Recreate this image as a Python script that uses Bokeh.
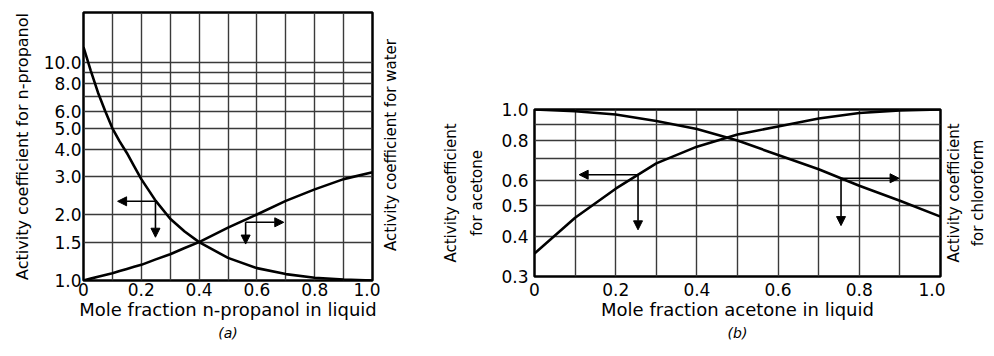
import math
from bokeh.plotting import figure
from bokeh.models import (Range1d, FixedTicker, CustomJSTickFormatter, Arrow, NormalHead,
                          LinearAxis, Title)
from bokeh.layouts import row
from bokeh.embed import file_html
from bokeh.resources import INLINE

# ---------------- data: panel (a) n-propanol / water ----------------
xa = [0.0, 0.025, 0.05, 0.075, 0.1, 0.125, 0.15, 0.175, 0.2, 0.25, 0.3, 0.35, 0.4,
      0.5, 0.6, 0.7, 0.8, 0.9, 1.0]
gamma_propanol = [11.8, 9.2, 7.3, 6.0, 5.0, 4.35, 3.85, 3.35, 2.92, 2.32, 1.92, 1.68, 1.50,
                  1.27, 1.14, 1.07, 1.03, 1.01, 1.0]
gamma_water = [1.0, 1.02, 1.04, 1.06, 1.08, 1.105, 1.13, 1.155, 1.18, 1.25, 1.32, 1.41, 1.50,
               1.75, 2.01, 2.32, 2.62, 2.92, 3.14]
ya_ticks = [1.0, 1.5, 2.0, 3.0, 4.0, 5.0, 6.0, 8.0, 10.0]
ya_grid = [1.0, 1.5, 2.0, 3.0, 4.0, 5.0, 6.0, 7.0, 8.0, 9.0, 10.0]
# arrows (x_start, y_start, x_end, y_end)
arrows_a = [(0.249, 2.31, 0.118, 2.31), (0.249, 2.31, 0.249, 1.58),
            (0.561, 1.85, 0.693, 1.85), (0.561, 1.85, 0.561, 1.47)]

# ---------------- data: panel (b) acetone / chloroform ----------------
xb = [0.0, 0.1, 0.2, 0.3, 0.4, 0.5, 0.6, 0.7, 0.8, 0.9, 1.0]
gamma_acetone = [0.354, 0.458, 0.565, 0.678, 0.765, 0.835, 0.885, 0.937, 0.975, 0.994, 1.0]
gamma_chloroform = [1.0, 0.988, 0.965, 0.921, 0.869, 0.80, 0.72, 0.65, 0.577, 0.518, 0.462]
yb_ticks = [0.3, 0.4, 0.5, 0.6, 0.8, 1.0]
yb_grid = [0.3, 0.4, 0.5, 0.6, 0.7, 0.8, 0.9, 1.0]
arrows_b = [(0.255, 0.625, 0.11, 0.625), (0.255, 0.625, 0.255, 0.42),
            (0.755, 0.609, 0.898, 0.609), (0.755, 0.609, 0.755, 0.433)]

x_ticks = [0.0, 0.2, 0.4, 0.6, 0.8, 1.0]
x_grid = [round(0.1 * i, 1) for i in range(11)]

FONT = "DejaVu Sans"
H = 340


def style(p, yt, yg, xstand, ystand):
    p.frame_align = False
    p.outline_line_color = "black"
    p.outline_line_width = 2.5
    p.background_fill_color = "white"
    p.border_fill_color = "white"
    for ax in p.axis:
        ax.axis_line_color = None
        ax.major_tick_line_color = None
        ax.minor_tick_line_color = None
        ax.major_tick_out = 0
        ax.major_tick_in = 0
        ax.major_label_text_font = FONT
        ax.major_label_text_font_size = "17px"
        ax.major_label_text_color = "black"
        ax.axis_label_text_font = FONT
        ax.axis_label_text_font_style = "normal"
        ax.axis_label_text_color = "black"
    p.xaxis.ticker = FixedTicker(ticks=x_ticks)
    p.xaxis.formatter = CustomJSTickFormatter(code="return tick == 0 ? '0' : tick.toFixed(1);")
    p.xaxis.major_label_standoff = xstand
    p.yaxis.ticker = FixedTicker(ticks=yt)
    p.yaxis.formatter = CustomJSTickFormatter(code="return tick.toFixed(1);")
    p.yaxis.major_label_standoff = ystand
    p.xgrid.ticker = FixedTicker(ticks=x_grid)
    p.ygrid.ticker = FixedTicker(ticks=yg)
    p.grid.grid_line_color = "#3a3a3a"
    p.grid.grid_line_width = 1.4


def bare_axis(ax, text, size, standoff):
    ax.ticker = FixedTicker(ticks=[])
    ax.axis_label = text
    ax.axis_line_color = None
    ax.major_tick_line_color = None
    ax.minor_tick_line_color = None
    ax.major_tick_out = 0
    ax.major_tick_in = 0
    ax.minor_tick_out = 0
    ax.minor_tick_in = 0
    ax.major_label_standoff = 0
    ax.axis_label_standoff = standoff
    ax.axis_label_text_font = FONT
    ax.axis_label_text_font_size = size
    ax.axis_label_text_font_style = "normal"
    ax.axis_label_text_color = "black"


def label_strip(width, top, bottom, labels):
    """Narrow figure whose left axis label(s) carry a rotated side caption.
    labels: list of (text, size, standoff), innermost first."""
    s = figure(width=width, height=H, x_range=Range1d(0, 1), y_range=Range1d(0, 1),
               output_backend="svg", toolbar_location=None, x_axis_location=None,
               min_border_left=width - 1, min_border_right=0,
               min_border_top=top, min_border_bottom=H - bottom)
    s.frame_align = False
    s.outline_line_color = None
    s.grid.visible = False
    s.background_fill_color = "white"
    s.border_fill_color = "white"
    text, size, standoff = labels[0]
    bare_axis(s.yaxis[0], text, size, standoff)
    for text, size, standoff in labels[1:]:
        ax = LinearAxis()
        bare_axis(ax, text, size, standoff)
        s.add_layout(ax, "left")
    return s


def add_arrows(p, arrows):
    for (x0, y0, x1, y1) in arrows:
        p.add_layout(Arrow(end=NormalHead(size=9, fill_color="black", line_color="black", line_width=1),
                           x_start=x0, y_start=y0, x_end=x1, y_end=y1,
                           line_color="black", line_width=1.6))


def panel_title(p, text):
    p.add_layout(Title(text=text, align="center", text_font=FONT, text_font_size="14px",
                       text_font_style="italic", text_color="black", standoff=0), "below")


# ---------------- panel (a) ----------------
WA = 380
A_L, A_R, A_T, A_B = 83, 372, 12, 280
pa = figure(width=WA, height=H, x_range=Range1d(0, 1), y_range=Range1d(1.0, 17.0),
            y_axis_type="log", output_backend="svg", toolbar_location=None,
            min_border_left=A_L, min_border_right=WA - A_R,
            min_border_top=A_T, min_border_bottom=H - A_B)
style(pa, ya_ticks, ya_grid, 2, 2)
pa.xaxis.axis_label = "Mole fraction n-propanol in liquid"
pa.xaxis.axis_label_text_font_size = "18px"
pa.xaxis.axis_label_standoff = 0
pa.yaxis.axis_label = "Activity coefficient for n-propanol"
pa.yaxis.axis_label_text_font_size = "16px"
pa.yaxis.axis_label_standoff = 9
panel_title(pa, "(a)")
pa.line(xa, gamma_propanol, line_color="black", line_width=2.6)
pa.line(xa, gamma_water, line_color="black", line_width=2.6)
add_arrows(pa, arrows_a)

# right caption of panel (a)
WW = 30
pw = label_strip(WW, 37, 252, [("Activity coefficient for water", "15px", 11)])

# ---------------- panel (b) ----------------
B_X0 = WA + WW            # 410
WB = 535
B_L, B_R, B_T, B_B = 534 - B_X0, 940 - B_X0, 109, 276
pb = figure(width=WB, height=H, x_range=Range1d(0, 1), y_range=Range1d(0.3, 1.0),
            y_axis_type="log", output_backend="svg", toolbar_location=None,
            min_border_left=B_L, min_border_right=WB - B_R,
            min_border_top=B_T, min_border_bottom=H - B_B)
style(pb, yb_ticks, yb_grid, 6, 6)
pb.xaxis.axis_label = "Mole fraction acetone in liquid"
pb.xaxis.axis_label_text_font_size = "18px"
pb.xaxis.axis_label_standoff = 0
pb.yaxis.axis_label = "for acetone"
pb.yaxis.axis_label_text_font_size = "15px"
pb.yaxis.axis_label_standoff = 12
outer = LinearAxis()
bare_axis(outer, "Activity coefficient", "15px", 6)
pb.add_layout(outer, "left")
panel_title(pb, "(b)")
pb.line(xb, gamma_acetone, line_color="black", line_width=2.6)
pb.line(xb, gamma_chloroform, line_color="black", line_width=2.6)
add_arrows(pb, arrows_b)

# right caption of panel (b)
WC = 41
pc = label_strip(WC, B_T, B_B, [("for chloroform", "15px", 0), ("Activity coefficient", "15px", 3)])

layout = row(pa, pw, pb, pc)
open("out.html", "w").write(file_html(layout, INLINE))
